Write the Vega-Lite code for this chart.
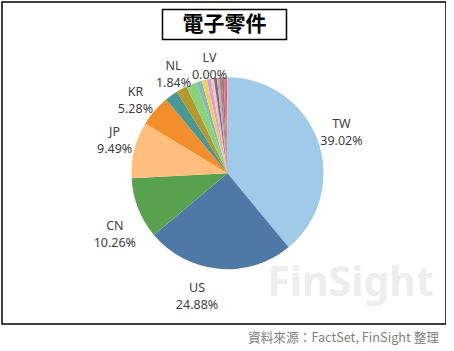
{
  "$schema": "https://vega.github.io/schema/vega-lite/v6.json",
  "padding": {"left": 2, "top": 2, "right": 0, "bottom": 0},
  "background": "white",
  "config": {
    "font": "Noto Sans",
    "text": {"font": "Noto Sans", "fontSize": 12.5, "color": "#404040"}
  },
  "datasets": {
    "shares": [
      {"name": "TW", "value": 39.02, "label": "TW\n39.02%"},
      {"name": "US", "value": 24.88, "label": "US\n24.88%"},
      {"name": "CN", "value": 10.26, "label": "CN\n10.26%"},
      {"name": "JP", "value": 9.49, "label": "JP\n9.49%"},
      {"name": "KR", "value": 5.28, "label": "KR\n5.28%"},
      {"name": "SG", "value": 2.2, "label": ""},
      {"name": "NL", "value": 1.84, "label": "NL\n1.84%"},
      {"name": "DE", "value": 1.8, "label": ""},
      {"name": "MY", "value": 0.9, "label": ""},
      {"name": "HK", "value": 0.85, "label": ""},
      {"name": "CH", "value": 0.7, "label": ""},
      {"name": "GB", "value": 0.51, "label": ""},
      {"name": "FR", "value": 0.49, "label": ""},
      {"name": "IL", "value": 0.41, "label": ""},
      {"name": "TH", "value": 0.39, "label": ""},
      {"name": "IN", "value": 0.35, "label": ""},
      {"name": "ID", "value": 0.33, "label": ""},
      {"name": "PH", "value": 0.2, "label": ""},
      {"name": "CA", "value": 0.1, "label": ""},
      {"name": "LV", "value": 0.0, "label": "LV\n0.00%"}
    ],
    "title": [{"t": "電子零件"}],
    "mark": [{"t": "FinSight"}]
  },
  "width": 444,
  "height": 322,
  "view": {"stroke": "#000000", "strokeWidth": 1.5},
  "title": {"text": "資料來源：FactSet, FinSight 整理", "orient": "bottom", "anchor": "end", "font": "Noto Sans CJK TC", "fontSize": 12.7, "fontWeight": "normal", "color": "#808080", "offset": 8, "dx": -7},
  "layer": [
    {
      "data": {"name": "mark"},
      "mark": {"type": "text", "font": "Noto Sans", "fontSize": 41, "fontWeight": "bold", "color": "#eeeeee", "align": "center", "baseline": "alphabetic", "xOffset": 126.5, "yOffset": 133},
      "encoding": {"text": {"field": "t"}}
    },
    {
      "data": {"name": "title"},
      "mark": {"type": "point", "shape": "M-1,-0.2419H1V0.2419H-1Z", "size": 15376, "filled": false, "stroke": "#000000", "strokeWidth": 1.5, "opacity": 1, "xOffset": 0.5, "yOffset": -138.5}
    },
    {
      "data": {"name": "title"},
      "mark": {"type": "text", "font": "Noto Sans CJK TC", "fontSize": 21, "fontWeight": "bold", "color": "#000000", "baseline": "middle", "align": "center", "xOffset": 0.5, "yOffset": -138.5},
      "encoding": {"text": {"field": "t"}}
    },
    {
      "data": {"name": "shares"},
      "encoding": {
        "theta": {"field": "value", "type": "quantitative", "stack": true},
        "order": {"field": "value", "sort": "descending"}
      },
      "layer": [
        {
          "mark": {"type": "arc", "outerRadius": 96, "xOffset": 3.5, "yOffset": 10.25},
          "encoding": {
            "color": {
              "field": "name",
              "type": "nominal",
              "legend": null,
              "scale": {
                "domain": ["TW","US","CN","JP","KR","SG","NL","DE","MY","HK","CH","GB","FR","IL","TH","IN","ID","PH","CA","LV"],
                "range": ["#A0CBE8","#4E79A7","#59A14F","#FFBE7D","#F28E2B","#499894","#B6992D","#8CD17D","#86BCB6","#F1CE63","#D4A6C8","#FABFD2","#79706E","#BAB0AC","#B07AA1","#9D7660","#D37295","#E15759","#FF9D9A","#F28E2B"]
              }
            }
          }
        },
        {
          "mark": {"type": "text", "radius": 120, "lineBreak": "\n", "lineHeight": 17, "xOffset": 3.5, "yOffset": 10.25, "dx": 1, "dy": -9},
          "encoding": {"text": {"condition": {"test": "datum.name === 'TW'", "field": "label"}, "value": ""}}
        },
        {
          "mark": {"type": "text", "radius": 120, "lineBreak": "\n", "lineHeight": 17, "xOffset": 3.5, "yOffset": 10.25, "dx": -19.5, "dy": -5},
          "encoding": {"text": {"condition": {"test": "datum.name === 'US'", "field": "label"}, "value": ""}}
        },
        {
          "mark": {"type": "text", "radius": 120, "lineBreak": "\n", "lineHeight": 17, "xOffset": 3.5, "yOffset": 10.25, "dx": -1, "dy": 9},
          "encoding": {"text": {"condition": {"test": "datum.name === 'CN'", "field": "label"}, "value": ""}}
        },
        {
          "mark": {"type": "text", "radius": 120, "lineBreak": "\n", "lineHeight": 17, "xOffset": 3.5, "yOffset": 10.25, "dx": 3.5, "dy": -12},
          "encoding": {"text": {"condition": {"test": "datum.name === 'JP'", "field": "label"}, "value": ""}}
        },
        {
          "mark": {"type": "text", "radius": 120, "lineBreak": "\n", "lineHeight": 17, "xOffset": 3.5, "yOffset": 10.25, "dx": -1, "dy": -3},
          "encoding": {"text": {"condition": {"test": "datum.name === 'KR'", "field": "label"}, "value": ""}}
        },
        {
          "mark": {"type": "text", "radius": 120, "lineBreak": "\n", "lineHeight": 17, "xOffset": 3.5, "yOffset": 10.25, "dx": 3.5, "dy": -2},
          "encoding": {"text": {"condition": {"test": "datum.name === 'NL'", "field": "label"}, "value": ""}}
        },
        {
          "mark": {"type": "text", "radius": 120, "lineBreak": "\n", "lineHeight": 17, "xOffset": 3.5, "yOffset": 10.25, "dx": -18, "dy": 5},
          "encoding": {"text": {"condition": {"test": "datum.name === 'LV'", "field": "label"}, "value": ""}}
        }
      ]
    }
  ]
}
